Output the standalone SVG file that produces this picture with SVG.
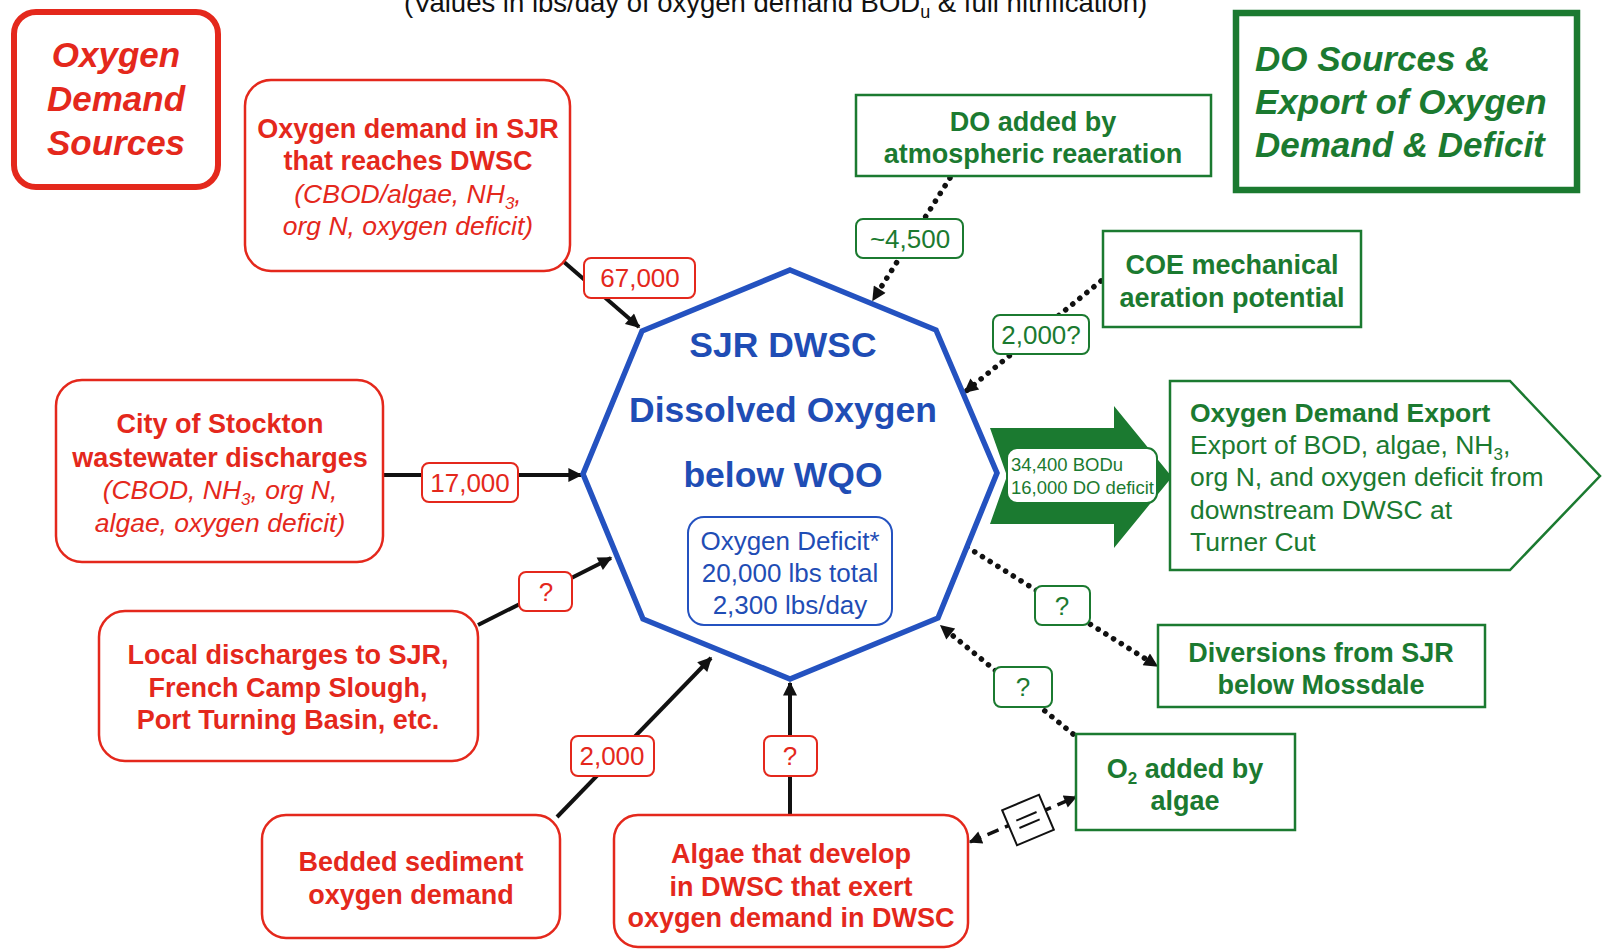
<svg xmlns="http://www.w3.org/2000/svg" width="1602" height="949" viewBox="0 0 1602 949">
<style>
text{font-family:"Liberation Sans",Arial,sans-serif}
.rb{font-weight:bold;font-size:27px;fill:#e4281c;text-anchor:middle}
.ri{font-style:italic;font-size:26.5px;fill:#e4281c;text-anchor:middle}
.gb{font-weight:bold;font-size:27px;fill:#1b7a30;text-anchor:middle}
.gr{font-size:26.5px;fill:#1b7a30}
.lr{font-size:26px;fill:#e4281c;text-anchor:middle}
.lg{font-size:26px;fill:#1b7a30;text-anchor:middle}
.hdr{font-weight:bold;font-style:italic;font-size:35px}
.ctr{font-weight:bold;font-size:35.5px;fill:#1f4db5;text-anchor:middle}
.def{font-size:26px;fill:#1f4db5;text-anchor:middle}
.rbox{fill:#fff;stroke:#e4281c;stroke-width:2.5}
.gbox{fill:#fff;stroke:#1b7a30;stroke-width:2.5}
.rlab{fill:#fff;stroke:#e4281c;stroke-width:2}
.glab{fill:#fff;stroke:#1b7a30;stroke-width:2}
.solid{stroke:#111;stroke-width:4;fill:none;marker-end:url(#ah)}
.dot{stroke:#111;stroke-width:5.5;fill:none;stroke-dasharray:0.1 9;stroke-linecap:round;marker-end:url(#ah)}
.dash{stroke:#111;stroke-width:3.5;fill:none;stroke-dasharray:12 7;marker-start:url(#ah2);marker-end:url(#ah2)}
</style>
<defs>
<marker id="ah" viewBox="0 0 10 10" refX="9" refY="5" markerUnits="userSpaceOnUse" markerWidth="17" markerHeight="14" orient="auto">
<path d="M0,0 L10,5 L0,10 z" fill="#111"/>
</marker>
<marker id="ah2" viewBox="0 0 10 10" refX="9" refY="5" markerUnits="userSpaceOnUse" markerWidth="16" markerHeight="13" orient="auto-start-reverse">
<path d="M0,0 L10,5 L0,10 z" fill="#111"/>
</marker>
</defs>
<rect width="1602" height="949" fill="#fff"/>

<text id="title" x="404" y="12" font-size="27.5" fill="#111">(Values in lbs/day of oxygen demand BOD<tspan font-size="18" dy="6">u</tspan><tspan dy="-6"> &amp; full nitrification)</tspan></text>

<g id="connectors">
<line class="solid" x1="564" y1="262" x2="639" y2="327"/>
<line class="solid" x1="383" y1="475" x2="581" y2="475"/>
<line class="solid" x1="478" y1="625" x2="611" y2="558"/>
<line class="solid" x1="557" y1="817" x2="711" y2="658"/>
<line class="solid" x1="790" y1="815" x2="790" y2="683"/>
<line class="dot" x1="950" y1="178" x2="873" y2="300"/>
<line class="dot" x1="1101" y1="281" x2="965" y2="392"/>
<line class="dot" x1="967" y1="547" x2="1157" y2="666"/>
<line class="dot" x1="1073" y1="734" x2="941" y2="626"/>
<line class="dash" x1="970" y1="842" x2="1076" y2="797"/>
<g transform="translate(1028,820) rotate(-23)">
<rect x="-20" y="-19" width="40" height="38" fill="#fff" stroke="#111" stroke-width="2"/>
<line x1="-11" y1="-4" x2="11" y2="-4" stroke="#111" stroke-width="2"/>
<line x1="-11" y1="4" x2="11" y2="4" stroke="#111" stroke-width="2"/>
</g>
<polygon id="export-arrow" points="990,428 1114,428 1114,406 1172,477 1114,548 1114,524 990,524 1007,476" fill="#1b7a30"/>
<rect x="1007" y="448" width="150" height="55" rx="10" fill="#fff" stroke="#1b7a30" stroke-width="2"/>
<text x="1011" y="471" font-size="18.5" fill="#1b7a30">34,400 BODu</text>
<text x="1011" y="494" font-size="18.5" fill="#1b7a30">16,000 DO deficit</text>
<g id="lab67"><rect class="rlab" x="584" y="258" width="111" height="40" rx="7"/><text class="lr" x="640" y="287">67,000</text></g>
<g id="lab17"><rect class="rlab" x="422" y="463" width="96" height="39" rx="7"/><text class="lr" x="470" y="492">17,000</text></g>
<g id="labq1"><rect class="rlab" x="519" y="572" width="53" height="39" rx="7"/><text class="lr" x="546" y="601">?</text></g>
<g id="lab2000"><rect class="rlab" x="571" y="736" width="83" height="40" rx="7"/><text class="lr" x="612" y="765">2,000</text></g>
<g id="labq2"><rect class="rlab" x="764" y="736" width="53" height="40" rx="7"/><text class="lr" x="790" y="765">?</text></g>
<g id="lab4500"><rect class="glab" x="856" y="219" width="107" height="39" rx="7"/><text class="lg" x="910" y="248">~4,500</text></g>
<g id="lab2000q"><rect class="glab" x="993" y="315" width="96" height="39" rx="7"/><text class="lg" x="1041" y="344">2,000?</text></g>
<g id="labq3"><rect class="glab" x="1035" y="586" width="55" height="39" rx="7"/><text class="lg" x="1062" y="615">?</text></g>
<g id="labq4"><rect class="glab" x="994" y="667" width="58" height="40" rx="7"/><text class="lg" x="1023" y="696">?</text></g>
</g>

<g id="hdr-od">
<rect x="14" y="12" width="204" height="175" rx="22" fill="#fff" stroke="#e4281c" stroke-width="6"/>
<text class="hdr" x="116" y="67" fill="#e4281c" text-anchor="middle">Oxygen</text>
<text class="hdr" x="116" y="111" fill="#e4281c" text-anchor="middle">Demand</text>
<text class="hdr" x="116" y="155" fill="#e4281c" text-anchor="middle">Sources</text>
</g>

<g id="n-sjr">
<rect class="rbox" x="245" y="80" width="325" height="191" rx="26"/>
<text class="rb" x="408" y="138">Oxygen demand in SJR</text>
<text class="rb" x="408" y="170">that reaches DWSC</text>
<text class="ri" x="408" y="203">(CBOD/algae, NH<tspan font-size="17" dy="6">3</tspan><tspan dy="-6">,</tspan></text>
<text class="ri" x="408" y="235">org N, oxygen deficit)</text>
</g>

<g id="n-stockton">
<rect class="rbox" x="56" y="380" width="327" height="182" rx="26"/>
<text class="rb" x="220" y="433">City of Stockton</text>
<text class="rb" x="220" y="467">wastewater discharges</text>
<text class="ri" x="220" y="499">(CBOD, NH<tspan font-size="17" dy="6">3</tspan><tspan dy="-6">, org N,</tspan></text>
<text class="ri" x="220" y="532">algae, oxygen deficit)</text>
</g>

<g id="n-local">
<rect class="rbox" x="99" y="611" width="379" height="150" rx="26"/>
<text class="rb" x="288" y="664">Local discharges to SJR,</text>
<text class="rb" x="288" y="697">French Camp Slough,</text>
<text class="rb" x="288" y="729">Port Turning Basin, etc.</text>
</g>

<g id="n-bedded">
<rect class="rbox" x="262" y="815" width="298" height="123" rx="24"/>
<text class="rb" x="411" y="871">Bedded sediment</text>
<text class="rb" x="411" y="904">oxygen demand</text>
</g>

<g id="n-algae">
<rect class="rbox" x="614" y="815" width="354" height="132" rx="24"/>
<text class="rb" x="791" y="863">Algae that develop</text>
<text class="rb" x="791" y="896">in DWSC that exert</text>
<text class="rb" x="791" y="927">oxygen demand in DWSC</text>
</g>

<g id="n-dwsc">
<polygon points="790,270 936,330 997,473 938,618 790,679 643,619 583,474 642,331" fill="#fff" stroke="#2452c0" stroke-width="5.5"/>
<text class="ctr" x="783" y="357">SJR DWSC</text>
<text class="ctr" x="783" y="422">Dissolved Oxygen</text>
<text class="ctr" x="783" y="487">below WQO</text>
<rect x="688" y="517" width="204" height="108" rx="16" fill="#fff" stroke="#2452c0" stroke-width="2"/>
<text class="def" x="790" y="550">Oxygen Deficit*</text>
<text class="def" x="790" y="582">20,000 lbs total</text>
<text class="def" x="790" y="614">2,300 lbs/day</text>
</g>

<g id="hdr-do">
<rect x="1236" y="13" width="341" height="177" fill="#fff" stroke="#1b7a30" stroke-width="6.5"/>
<text class="hdr" x="1255" y="71" fill="#1b7a30">DO Sources &amp;</text>
<text class="hdr" x="1255" y="114" fill="#1b7a30">Export of Oxygen</text>
<text class="hdr" x="1255" y="157" fill="#1b7a30">Demand &amp; Deficit</text>
</g>

<g id="n-reaeration">
<rect class="gbox" x="856" y="95" width="355" height="81"/>
<text class="gb" x="1033" y="131">DO added by</text>
<text class="gb" x="1033" y="163">atmospheric reaeration</text>
</g>

<g id="n-coe">
<rect class="gbox" x="1103" y="231" width="258" height="96"/>
<text class="gb" x="1232" y="274">COE mechanical</text>
<text class="gb" x="1232" y="307">aeration potential</text>
</g>

<g id="n-export">
<polygon points="1170,381 1510,381 1600,476 1510,570 1170,570" fill="#fff" stroke="#1b7a30" stroke-width="2.5"/>
<text class="gr" x="1190" y="422" font-weight="bold">Oxygen Demand Export</text>
<text class="gr" x="1190" y="454">Export of BOD, algae, NH<tspan font-size="17" dy="6">3</tspan><tspan dy="-6">,</tspan></text>
<text class="gr" x="1190" y="486">org N, and oxygen deficit from</text>
<text class="gr" x="1190" y="519">downstream DWSC at</text>
<text class="gr" x="1190" y="551">Turner Cut</text>
</g>

<g id="n-diversions">
<rect class="gbox" x="1158" y="625" width="327" height="82"/>
<text class="gb" x="1321" y="662">Diversions from SJR</text>
<text class="gb" x="1321" y="694">below Mossdale</text>
</g>

<g id="n-o2">
<rect class="gbox" x="1076" y="734" width="219" height="96"/>
<text class="gb" x="1185" y="778">O<tspan font-size="17" dy="6">2</tspan><tspan dy="-6"> added by</tspan></text>
<text class="gb" x="1185" y="810">algae</text>
</g>
</svg>
